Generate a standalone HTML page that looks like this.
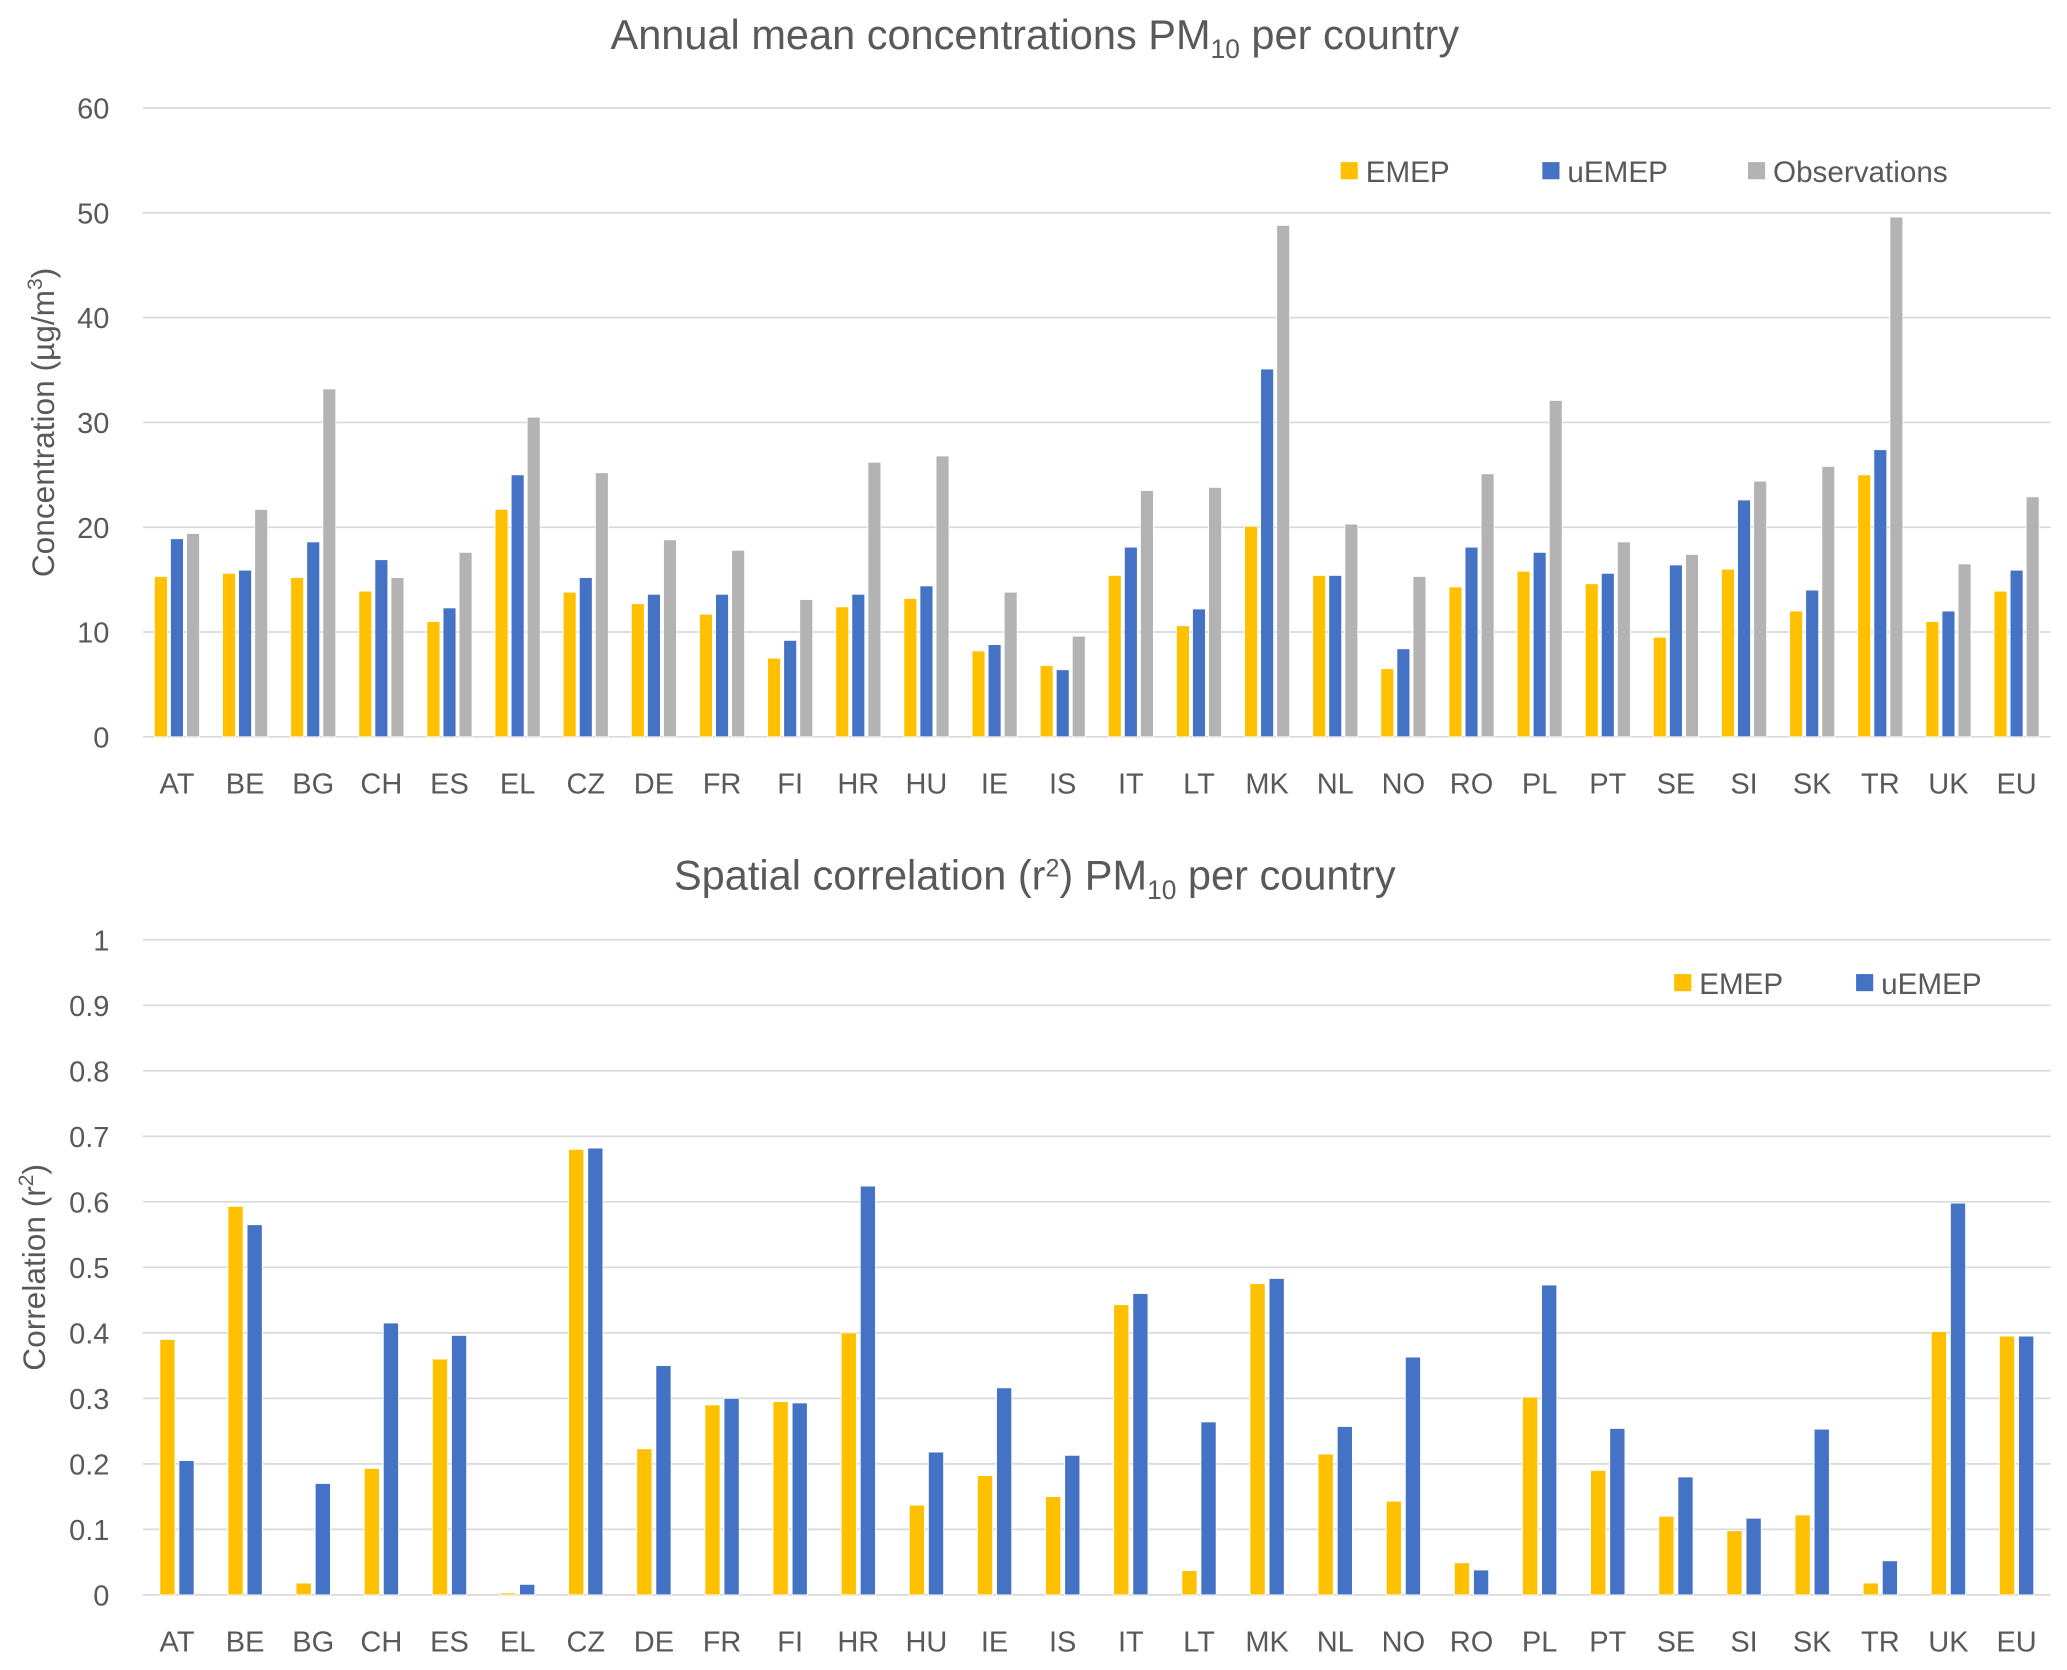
<!DOCTYPE html>
<html><head><meta charset="utf-8"><style>
html,body{margin:0;padding:0;background:#fff;}
svg{display:block;font-family:"Liberation Sans",sans-serif;}
</style></head><body>
<svg id="svg" width="2067" height="1670" viewBox="0 0 1568 1267" preserveAspectRatio="none" xmlns="http://www.w3.org/2000/svg">
<rect width="1568" height="1267" fill="#fff"/>
<g id="top"></g>
<g id="bot"></g>
</svg>
<script>
const categories=["AT","BE","BG","CH","ES","EL","CZ","DE","FR","FI","HR","HU","IE","IS","IT","LT","MK","NL","NO","RO","PL","PT","SE","SI","SK","TR","UK","EU"];
const concEMEP=[15.3,15.6,15.2,13.9,11.0,21.7,13.8,12.7,11.7,7.5,12.4,13.2,8.2,6.8,15.4,10.6,20.1,15.4,6.5,14.3,15.8,14.6,9.5,16.0,12.0,25.0,11.0,13.9];
const concUEMEP=[18.9,15.9,18.6,16.9,12.3,25.0,15.2,13.6,13.6,9.2,13.6,14.4,8.8,6.4,18.1,12.2,35.1,15.4,8.4,18.1,17.6,15.6,16.4,22.6,14.0,27.4,12.0,15.9];
const concObs=[19.4,21.7,33.2,15.2,17.6,30.5,25.2,18.8,17.8,13.1,26.2,26.8,13.8,9.6,23.5,23.8,48.8,20.3,15.3,25.1,32.1,18.6,17.4,24.4,25.8,49.6,16.5,22.9];
const corrEMEP=[0.39,0.593,0.018,0.193,0.36,0.003,0.68,0.223,0.29,0.295,0.40,0.137,0.182,0.15,0.443,0.037,0.475,0.215,0.143,0.049,0.302,0.19,0.12,0.098,0.122,0.018,0.402,0.395];
const corrUEMEP=[0.205,0.565,0.17,0.415,0.396,0.016,0.682,0.35,0.30,0.293,0.624,0.218,0.316,0.213,0.46,0.264,0.483,0.257,0.363,0.038,0.473,0.254,0.18,0.117,0.253,0.052,0.598,0.395];
const concTicks=["0","10","20","30","40","50","60"];
const corrTicks=["0","0.1","0.2","0.3","0.4","0.5","0.6","0.7","0.8","0.9","1"];

const NS="http://www.w3.org/2000/svg";
function mk(p,t,a){const e=document.createElementNS(NS,t);for(const k in a)e.setAttribute(k,a[k]);p.appendChild(e);return e;}
const X0=108.4,X1=1555.6,step=(X1-X0)/categories.length;
function xc(i){return X0+step*(i+0.5);}

function drawChart(g,o){
  const y=v=>o.y0-(v/o.max)*(o.y0-o.y1);
  o.ticks.forEach((t,i)=>{
    const v=o.max*i/(o.ticks.length-1);
    const l=mk(g,'line',{x1:X0,x2:X1,y1:y(v),y2:y(v),stroke:'#d9d9d9','stroke-width':1.3});
    
    
    const tx=mk(g,'text',{x:83,y:y(v)+8,'text-anchor':'end','font-size':22,fill:'#595959'});
    tx.textContent=t;
    
    
  });
  const n=o.series.length;
  categories.forEach((c,i)=>{
    const tx=mk(g,'text',{x:xc(i),y:o.y0+43,'text-anchor':'middle','font-size':22,fill:'#595959'});
    tx.textContent=c;
    
    
    o.series.forEach((s,j)=>{
      const bx=xc(i)-(n*o.bw+(n-1)*o.gap)/2+j*(o.bw+o.gap);
      const top=y(s.data[i]);
      const r=mk(g,'rect',{x:bx,y:top,width:o.bw,height:Math.max(0,o.y0-top),fill:s.color,stroke:'#fff','stroke-width':0.6});
      
      
    });
  });
  const t=mk(g,'text',{x:785,y:o.titleY,'text-anchor':'middle','font-size':31.5,fill:'#595959'});
  t.innerHTML=o.title;
  
  
  const yt=mk(g,'text',{transform:`translate(${o.ytX},${(o.y0+o.y1)/2}) rotate(-90)`,'text-anchor':'middle','font-size':24,fill:'#595959'});
  yt.innerHTML=o.ytitle;
  
  
  o.legend.forEach((L,j)=>{
    const r=mk(g,'rect',{x:L.x,y:o.legY-7,width:13,height:13,fill:o.series[j].color});
    
    
    const tx=mk(g,'text',{x:L.x+19,y:o.legY+8,'font-size':22.5,fill:'#595959'});
    tx.textContent=L.label;
    
    
  });
}
drawChart(document.getElementById('top'),{
  y0:559,y1:82,max:60,ticks:concTicks,bw:9.8,gap:2.4,titleY:37,
  title:'Annual mean concentrations PM<tspan font-size="20" dy="7">10</tspan><tspan dy="-7"> per country</tspan>',
  ytitle:'Concentration (µg/m<tspan font-size="16" dy="-9">3</tspan><tspan dy="9">)</tspan>',ytX:41,
  series:[{key:'emep',data:concEMEP,color:'#FFC000'},{key:'uemep',data:concUEMEP,color:'#4472C4'},{key:'obs',data:concObs,color:'#B3B3B3'}],
  legY:130,legend:[{x:1017,label:'EMEP'},{x:1170,label:'uEMEP'},{x:1326,label:'Observations'}]
});
drawChart(document.getElementById('bot'),{
  y0:1210,y1:713,max:1,ticks:corrTicks,bw:11.5,gap:3,titleY:675,
  title:'Spatial correlation (r<tspan font-size="19" dy="-10">2</tspan><tspan dy="10">) PM</tspan><tspan font-size="20" dy="7">10</tspan><tspan dy="-7"> per country</tspan>',
  ytitle:'Correlation (r<tspan font-size="16" dy="-9">2</tspan><tspan dy="9">)</tspan>',ytX:34,
  series:[{key:'emep',data:corrEMEP,color:'#FFC000'},{key:'uemep',data:corrUEMEP,color:'#4472C4'}],
  legY:746,legend:[{x:1270,label:'EMEP'},{x:1408,label:'uEMEP'}]
});
</script>
</body></html>
